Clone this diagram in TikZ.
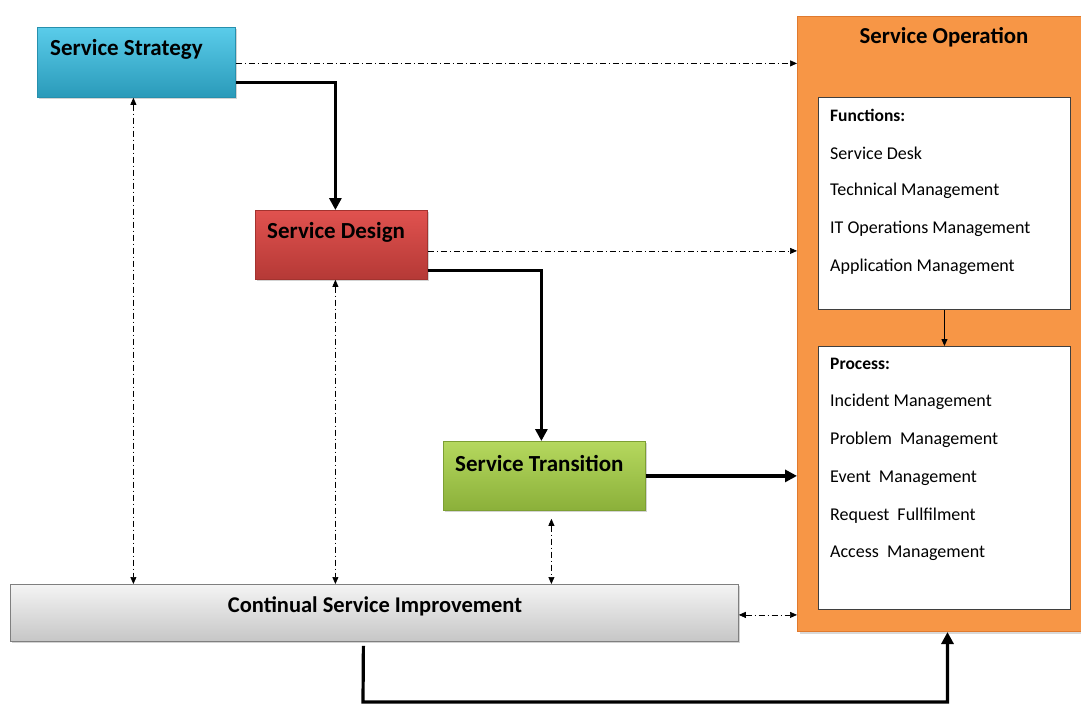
\documentclass[tikz,border=0pt]{standalone}
\usepackage{fontspec}
\setmainfont{Carlito}
\usetikzlibrary{arrows.meta,shadows,calc}

\definecolor{stratTop}{HTML}{5ACCEA}
\definecolor{stratBot}{HTML}{2A9AB9}
\definecolor{stratEdge}{HTML}{2790AD}
\definecolor{desTop}{HTML}{E0524F}
\definecolor{desBot}{HTML}{B53936}
\definecolor{desEdge}{HTML}{A3332F}
\definecolor{trTop}{HTML}{B5D85E}
\definecolor{trBot}{HTML}{8BB03A}
\definecolor{trEdge}{HTML}{7D9F33}
\definecolor{csiTop}{HTML}{F4F4F4}
\definecolor{csiBot}{HTML}{C6C6C6}
\definecolor{csiEdge}{HTML}{7F7F7F}
\definecolor{opFill}{HTML}{F79646}
\definecolor{opEdge}{HTML}{E07A2E}
\definecolor{listEdge}{HTML}{3F3F3F}

\tikzset{
  phase/.style={draw, line width=0.8pt, minimum width=#1, inner sep=0pt,
    anchor=north west,
    drop shadow={opacity=0.35, shadow xshift=2pt, shadow yshift=-2pt}},
  title/.style={font=\fontsize{23}{26}\selectfont\bfseries, anchor=west, inner sep=0pt},
  listbox/.style={draw=listEdge, fill=white, line width=0.9pt, anchor=north west, inner sep=0pt},
  item/.style={font=\fontsize{18}{21}\selectfont, anchor=west, inner sep=0pt},
  flow/.style={line width=3.2pt, -{Triangle[length=12pt,width=12pt]}},
  link/.style={line width=0.7pt, dash pattern=on 6pt off 3pt on 1pt off 3pt,
    -{Triangle[length=7pt,width=6pt]}},
  linkboth/.style={link, {Triangle[length=7pt,width=6pt]}-{Triangle[length=7pt,width=6pt]}},
}

\begin{document}
\begin{tikzpicture}[x=1pt,y=-1pt]
\useasboundingbox (0,0) rectangle (1081,705);
\begin{scope}
\clip (0,0) rectangle (1081,705);

% Service Operation container
\node[draw=opEdge, fill=opFill, line width=1pt, anchor=north west, inner sep=0pt,
      minimum width=300pt, minimum height=615pt,
      drop shadow={opacity=0.3, shadow xshift=2pt, shadow yshift=-2pt}] (op) at (797,16) {};
\node[font=\fontsize{22.8}{26}\selectfont\bfseries, inner sep=0pt] (optitle) at (944,37) {Service Operation};

% Functions list
\node[listbox, minimum width=252pt, minimum height=212pt] (func) at (818,97) {};
\node[item, font=\fontsize{17.5}{21}\selectfont\bfseries] (fhead) at (830,115) {Functions:};
\node[item] (f1) at (830,153) {Service Desk};
\node[item] (f2) at (830,191) {Technical Management};
\node[item] (f3) at (830,229) {IT Operations Management};
\node[item] (f4) at (830,267) {Application Management};

% Process list
\node[listbox, minimum width=252pt, minimum height=263pt] (proc) at (818,346) {};
\node[item, font=\fontsize{17.5}{21}\selectfont\bfseries] (phead) at (830,364) {Process:};
\node[item] (p1) at (830,402) {Incident Management};
\node[item] (p2) at (830,440) {Problem\ \ Management};
\node[item] (p3) at (830,478) {Event\ \ Management};
\node[item] (p4) at (830,516) {Request\ \ Fullfilment};
\node[item] (p5) at (830,553) {Access\ \ Management};

\draw[line width=1pt, -{Triangle[length=7pt,width=6pt]}] (func.south) -- (proc.north);

% Lifecycle phases
\node[phase=198pt, minimum height=70pt, draw=stratEdge, top color=stratTop, bottom color=stratBot] (strat) at (37,27) {};
\node[title] (strattxt) at (50,49) {Service Strategy};

\node[phase=172pt, minimum height=69pt, draw=desEdge, top color=desTop, bottom color=desBot] (des) at (255,210) {};
\node[title] (destxt) at (267,232) {Service Design};

\node[phase=202pt, minimum height=69pt, draw=trEdge, top color=trTop, bottom color=trBot] (tr) at (443,441) {};
\node[title] (trtxt) at (455,463) {Service Transition};

\node[phase=728pt, minimum height=57pt, draw=csiEdge, top color=csiTop, bottom color=csiBot] (csi) at (10,584) {};
\node[font=\fontsize{22.5}{26}\selectfont\bfseries, inner sep=0pt] (csitxt) at (375,606) {Continual Service Improvement};

% Main flow
\draw[flow] ([yshift=-20pt]strat.east) -| ([xshift=-6pt]des.north);
\draw[flow] ([yshift=-25.5pt]des.east) -| ([xshift=-3pt]tr.north);
\draw[flow] (tr.east) -- (tr.east -| op.west);
\coordinate (c1) at ($(csi.south)+(-11,4)$);
\coordinate (c2) at (363,702);
\draw[flow] (c1) -- (c2) -| (op.south);

% Feedback links
\draw[link] ([yshift=-1pt]strat.east) -- ([yshift=-1pt]strat.east -| op.west);
\draw[link] ([yshift=-6pt]des.east) -- ([yshift=-6pt]des.east -| op.west);
\draw[linkboth] ([yshift=-2pt]csi.east) -- ([yshift=-2pt]csi.east -| op.west);
\draw[linkboth] ([xshift=-3pt]strat.south) -- ([xshift=-3pt]strat.south |- csi.north);
\draw[linkboth] ([xshift=-6pt]des.south) -- ([xshift=-6pt]des.south |- csi.north);
\draw[linkboth] ([xshift=7pt,yshift=-8pt]tr.south) -- ([xshift=7pt]tr.south |- csi.north);
\end{scope}
\end{tikzpicture}
\end{document}
